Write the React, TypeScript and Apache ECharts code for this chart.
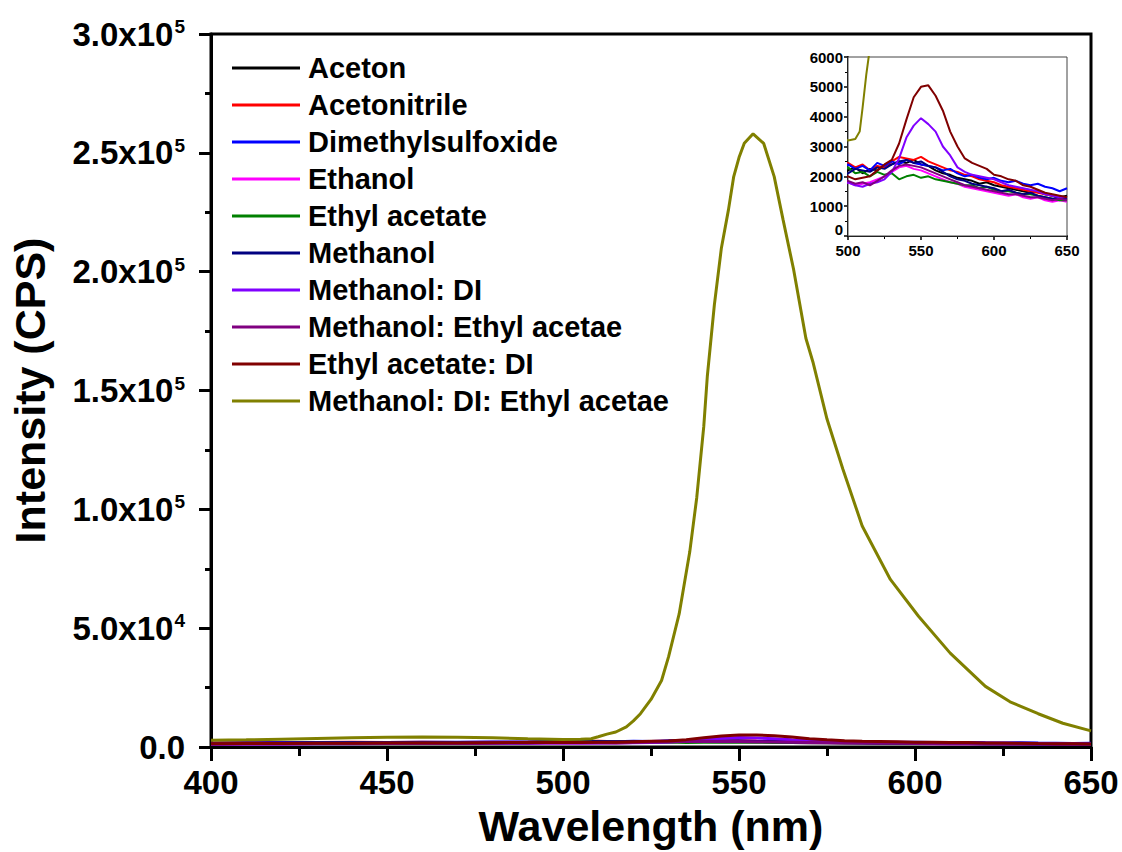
import React, { useEffect, useRef } from "react";
import * as echarts from "echarts";

const FONT = '"Liberation Sans", Arial, Helvetica, sans-serif';

// shared wavelength grid (nm) for the nine weak spectra
const wavelengths = [
  400, 410, 420, 430, 440, 450, 460, 470, 480, 490,
  500, 505, 510, 515, 520, 525, 530, 535, 540, 545, 550, 555, 560, 565, 570, 575,
  580, 585, 590, 595, 600, 605, 610, 615, 620, 625, 630, 635, 640, 645, 650,
];

const seriesNames = [
  "Aceton",
  "Acetonitrile",
  "Dimethylsulfoxide",
  "Ethanol",
  "Ethyl acetate",
  "Methanol",
  "Methanol: DI",
  "Methanol: Ethyl acetae",
  "Ethyl acetate: DI",
  "Methanol: DI: Ethyl acetae",
];

const seriesColors = [
  "#000000", "#ff0000", "#0000ff", "#ff00ff", "#008000",
  "#000080", "#8000ff", "#800080", "#800000", "#808000",
];

const aceton = [
  1500, 1600, 1700, 1700, 1800, 1800, 1900, 1800, 1800, 1900,
  2200, 2300, 2100, 2250, 2200, 2350, 2400, 2500, 2450, 2550, 2400, 2350, 2200, 2100, 2050, 1950,
  1900, 1850, 1750, 1800, 1700, 1650, 1600, 1550, 1500, 1450, 1500, 1400, 1350, 1300, 1350,
];
const acetonitrile = [
  1700, 1800, 1800, 1900, 2000, 1900, 2000, 1900, 2000, 2100,
  2450, 2300, 2400, 2200, 2350, 2300, 2500, 2650, 2600, 2550, 2650, 2500, 2400, 2300, 2200, 2150,
  2050, 2000, 1900, 1850, 1800, 1700, 1650, 1600, 1550, 1500, 1450, 1400, 1350, 1300, 1300,
];
const dimethylsulfoxide = [
  1600, 1700, 1800, 1800, 1900, 1900, 2000, 2000, 2100, 2100,
  2400, 2250, 2350, 2200, 2450, 2350, 2500, 2400, 2550, 2450, 2400, 2350, 2300, 2200, 2250, 2100,
  2000, 2050, 1950, 1900, 1950, 1850, 1800, 1850, 1750, 1700, 1750, 1650, 1600, 1500, 1600,
];
const ethanol = [
  1300, 1400, 1400, 1500, 1500, 1600, 1600, 1600, 1700, 1700,
  1800, 1700, 1750, 1800, 1900, 2000, 2150, 2300, 2350, 2250, 2200, 2100, 2000, 1900, 1800, 1750,
  1650, 1600, 1550, 1500, 1450, 1400, 1350, 1400, 1300, 1250, 1300, 1200, 1150, 1200, 1150,
];
const ethylAcetate = [
  1400, 1500, 1500, 1600, 1600, 1700, 1700, 1700, 1800, 1800,
  2300, 2100, 2150, 2000, 2150, 2050, 2100, 1900, 2000, 2050, 1950, 2000, 1900, 1850, 1800, 1750,
  1700, 1700, 1600, 1650, 1550, 1500, 1500, 1450, 1400, 1400, 1350, 1300, 1250, 1200, 1200,
];
const methanol = [
  1500, 1600, 1600, 1700, 1700, 1800, 1800, 1800, 1900, 1900,
  2100, 2250, 2200, 2150, 2300, 2250, 2400, 2500, 2550, 2450, 2500, 2350, 2300, 2150, 2000, 1900,
  1850, 1750, 1700, 1650, 1600, 1500, 1550, 1450, 1400, 1450, 1350, 1300, 1250, 1300, 1250,
];
const methanolDI = [
  1200, 1300, 1300, 1400, 1400, 1500, 1500, 1500, 1600, 1600,
  1800, 1700, 1650, 1750, 1800, 1900, 2150, 2600, 3300, 3700, 3950, 3750, 3500, 3000, 2700, 2300,
  2150, 2050, 2000, 1950, 1900, 1800, 1700, 1650, 1600, 1550, 1500, 1400, 1350, 1300, 1300,
];
const methanolEthylAcetae = [
  1300, 1400, 1400, 1500, 1500, 1600, 1600, 1600, 1700, 1700,
  1850, 1750, 1800, 1700, 1850, 2000, 2200, 2350, 2400, 2350, 2300, 2200, 2100, 2000, 1900, 1800,
  1700, 1650, 1600, 1550, 1500, 1450, 1400, 1400, 1350, 1300, 1300, 1250, 1200, 1250, 1200,
];
const ethylAcetateDI = [
  1400, 1500, 1500, 1600, 1600, 1700, 1700, 1700, 1800, 1900,
  2000, 1900, 1950, 2000, 2200, 2400, 2550, 3100, 3900, 4650, 5000, 5050, 4700, 4200, 3500, 3000,
  2600, 2450, 2350, 2250, 2050, 2000, 1900, 1850, 1700, 1650, 1550, 1450, 1400, 1350, 1300,
];

// strong emission of the ternary mixture
const oliveWavelengths = [
  400, 410, 420, 430, 440, 450, 460, 470, 480, 490,
  500, 505, 508, 510, 512.5, 515, 518, 520, 522, 525,
  528, 530, 533, 536, 538, 540, 541, 543, 545, 547,
  548.5, 550, 551.5, 554, 557, 560, 562.5, 565.5, 569, 571,
  575, 579.5, 585, 593, 601, 610, 620, 627, 635, 642, 650,
];
const oliveValues = [
  2800, 3000, 3300, 3600, 3900, 4100, 4200, 4100, 3900, 3500,
  3200, 3250, 3500, 4300, 5400, 6300, 8500, 11000, 14000, 20000,
  28000, 38000, 56000, 82000, 105000, 135000, 156000, 186000, 210000, 226000,
  240000, 248000, 254000, 258000, 254000, 240000, 222000, 201000, 172000, 162000,
  138000, 117000, 93000, 70500, 55000, 39500, 25500, 19000, 14000, 10000, 6800,
];

const weakSeries = [
  aceton, acetonitrile, dimethylsulfoxide, ethanol, ethylAcetate,
  methanol, methanolDI, methanolEthylAcetae, ethylAcetateDI,
];

function mainYLabel(v: number): string {
  if (v === 0) return "{m|0.0}";
  const e = Math.floor(Math.log10(v) + 1e-9);
  const m = (v / Math.pow(10, e)).toFixed(1);
  return `{m|${m}x10}{e|${e}}`;
}

function insetYLabel(v: number): string {
  return v === 0 ? "{z|0}" : `{n|${v}}`;
}

export default function App() {
  const ref = useRef<HTMLDivElement>(null);

  useEffect(() => {
    document.body.style.margin = "0";
    if (!ref.current) return;
    const chart = echarts.init(ref.current, undefined, { renderer: "svg" });

    const allData: number[][][] = weakSeries.map((vals) =>
      wavelengths.map((w, j) => [w, vals[j]])
    );
    allData.push(oliveWavelengths.map((w, j) => [w, oliveValues[j]]));

    const series: any[] = [];
    allData.forEach((data, i) => {
      series.push({
        type: "line",
        name: seriesNames[i],
        data,
        xAxisIndex: 0,
        yAxisIndex: 0,
        symbol: "none",
        clip: true,
        lineStyle: { color: seriesColors[i], width: 3 },
        itemStyle: { color: seriesColors[i] },
        z: 2,
      });
    });
    allData.forEach((data, i) => {
      series.push({
        type: "line",
        name: seriesNames[i],
        data,
        xAxisIndex: 1,
        yAxisIndex: 1,
        symbol: "none",
        clip: true,
        lineStyle: { color: seriesColors[i], width: 2 },
        itemStyle: { color: seriesColors[i] },
        z: 5,
      });
    });

    const axisText = { fontFamily: FONT, fontWeight: "bold" as const, color: "#000" };

    chart.setOption({
      animation: false,
      backgroundColor: "#ffffff",
      textStyle: { fontFamily: FONT },
      grid: [
        {
          left: 210, top: 34, width: 881, height: 716,
          show: true, borderColor: "#000", borderWidth: 3,
        },
        {
          left: 848, top: 57, width: 219, height: 179,
          show: true, borderColor: "#444", borderWidth: 1,
          backgroundColor: "#fff", z: 4,
        },
      ],
      legend: {
        data: seriesNames,
        orient: "vertical",
        left: 227,
        top: 48,
        icon: "rect",
        itemWidth: 68,
        itemHeight: 3,
        itemGap: 7,
        textStyle: {
          ...axisText,
          fontSize: 29,
          lineHeight: 30,
          padding: [0, 0, 0, 3],
        },
        selectedMode: false,
      },
      xAxis: [
        {
          type: "value", gridIndex: 0, min: 400, max: 650, interval: 50,
          name: "Wavelength (nm)", nameLocation: "middle", nameGap: 57,
          nameTextStyle: { ...axisText, fontSize: 43 },
          axisLine: { show: true, lineStyle: { color: "#000", width: 3 } },
          axisTick: { show: true, inside: false, length: 14, lineStyle: { color: "#000", width: 3 } },
          minorTick: { show: true, splitNumber: 2, length: 9, lineStyle: { color: "#000", width: 3 } },
          axisLabel: { ...axisText, fontSize: 33, margin: 19 },
          splitLine: { show: false },
        },
        {
          type: "value", gridIndex: 1, min: 500, max: 650, interval: 50,
          axisLine: { show: true, lineStyle: { color: "#000", width: 2 } },
          axisTick: { show: true, length: 4, lineStyle: { color: "#000", width: 1.5 } },
          minorTick: { show: true, splitNumber: 2, length: 3, lineStyle: { color: "#000", width: 1 } },
          axisLabel: { ...axisText, fontSize: 15, margin: 7, formatter: (v: number) => String(v) },
          splitLine: { show: false },
        },
      ],
      yAxis: [
        {
          type: "value", gridIndex: 0, min: 0, max: 300000, interval: 50000,
          name: "Intensity (CPS)", nameLocation: "middle", nameGap: 160, nameRotate: 90,
          nameTextStyle: { ...axisText, fontSize: 43 },
          axisLine: { show: true, lineStyle: { color: "#000", width: 3 } },
          axisTick: { show: true, length: 12, lineStyle: { color: "#000", width: 3 } },
          minorTick: { show: true, splitNumber: 2, length: 6, lineStyle: { color: "#000", width: 3 } },
          axisLabel: {
            formatter: mainYLabel,
            margin: 26,
            rich: {
              m: { ...axisText, fontSize: 33, lineHeight: 34 },
              e: { ...axisText, fontSize: 19, verticalAlign: "top", lineHeight: 18, padding: [0, 0, 0, 1] },
            },
          },
          splitLine: { show: false },
        },
        {
          type: "value", gridIndex: 1, min: 0, max: 6000, interval: 1000,
          axisLine: { show: true, lineStyle: { color: "#000", width: 2 } },
          axisTick: { show: true, length: 4, lineStyle: { color: "#000", width: 1.5 } },
          minorTick: { show: true, splitNumber: 2, length: 3, lineStyle: { color: "#000", width: 1 } },
          axisLabel: {
            margin: 5,
            formatter: insetYLabel,
            rich: {
              n: { ...axisText, fontSize: 15 },
              z: { ...axisText, fontSize: 15, padding: [0, 0, 14, 0] },
            },
          },
          splitLine: { show: false },
        },
      ],
      series,
    });

    return () => chart.dispose();
  }, []);

  return <div ref={ref} style={{ width: 1122, height: 852 }} />;
}
